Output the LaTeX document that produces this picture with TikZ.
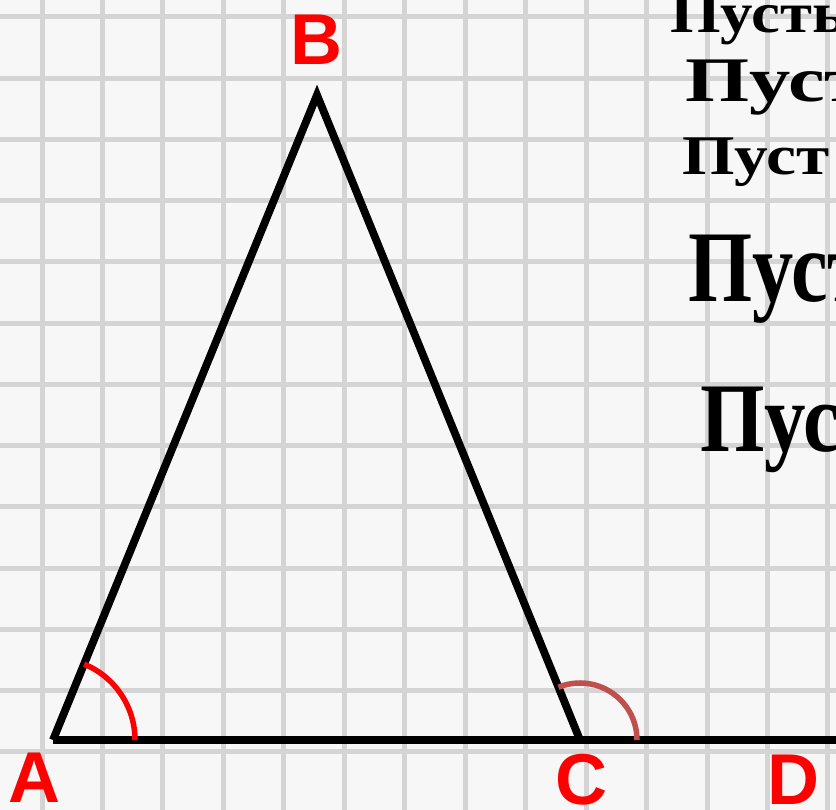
\documentclass[tikz,border=0pt]{standalone}
\usepackage{fontspec}
\setmainfont{Liberation Serif}
\newfontfamily\lblfont{Liberation Sans}
\definecolor{paper}{HTML}{F7F7F7}
\definecolor{gridc}{HTML}{D4D4D4}
\definecolor{arcA}{HTML}{FF0000}
\definecolor{arcC}{HTML}{C0504D}
\definecolor{lblc}{HTML}{FF0000}
\tikzset{
  gridline/.style={draw=gridc, line width=5pt},
  side/.style={draw=black, line width=7.8pt, miter limit=20},
  anglemark/.style={line width=5.5pt},
  lbl/.style={text=lblc, font=\lblfont\bfseries\fontsize{72}{72}\selectfont, inner sep=0pt, anchor=base},
  txt/.style={font=\bfseries\fontsize{50}{50}\selectfont, inner sep=0pt, anchor=base west},
}
\begin{document}
\begin{tikzpicture}[x=1pt,y=1pt]
\useasboundingbox (0,0) rectangle (836,810);
\clip (0,0) rectangle (836,810);
\fill[paper] (0,0) rectangle (836,810);
\foreach \k in {0,...,13} { \draw[gridline] ({42+60.46*\k},0) -- ({42+60.46*\k},810); }
\foreach \k in {0,...,12} { \draw[gridline] (0,{793-61.25*\k}) -- (836,{793-61.25*\k}); }
% text on the right
\node[txt] (t1) at (670,{810-33}) {\scalebox{1.3}[1.15]{Пусть}};
\node[txt] (t2) at (685,{810-102}) {\scalebox{1.65}[1.27]{Пуст}};
\node[txt] (t3) at (682,{810-175}) {\scalebox{1.35}[1.12]{Пуст}};
\node[txt] (t4) at (688,{810-302}) {\scalebox{1.65}[2.03]{Пуст}};
\node[txt] (t5) at (700,{810-452}) {\scalebox{1.66}[1.97]{Пус}};
% triangle
\coordinate (A) at (53,70);
\coordinate (B) at (317,715);
\coordinate (C) at (580,70);
\coordinate (D) at (840,70);
\draw[side] (A) -- (B) -- (C);
\draw[side] (A) -- (D);
% angles
\draw[anglemark, arcA] ([xshift=82pt]A) arc[start angle=0, end angle=67.7, radius=82pt];
\draw[anglemark, arcC] ([xshift=57pt]C) arc[start angle=0, end angle=112.2, radius=57pt];
% labels
\node[lbl] (lA) at (34,{810-803}) {A};
\node[lbl] (lB) at (316,{810-65}) {B};
\node[lbl] (lC) at (581,{810-805}) {C};
\node[lbl] (lD) at (793,{810-805}) {D};
\end{tikzpicture}
\end{document}
